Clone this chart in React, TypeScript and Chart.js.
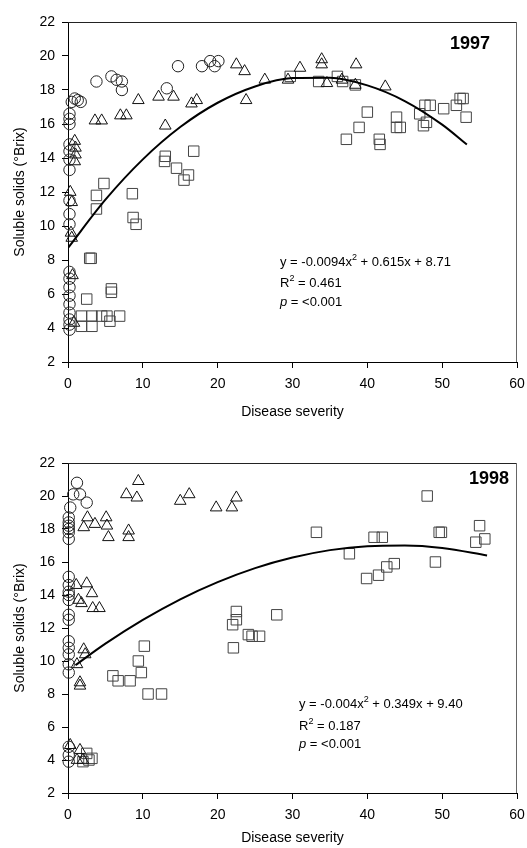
import React, { useEffect, useRef } from "react";
import { Chart, registerables } from "chart.js";

Chart.register(...registerables);

const FONT = '"Liberation Sans", Arial, Helvetica, sans-serif';

// ---------- axis ticks ----------
const xTickMin = 0;
const xTickMax = 60;
const xTickStep = 10;
const yTickMin = 2;
const yTickMax = 22;
const yTickStep = 2;

const xTitle = "Disease severity";
const yTitle = "Soluble solids (°Brix)";

// ---------- 1997 ----------
const year1997 = "1997";
const circles1997: [number, number][] = [
  [0.2, 16.6], [0.2, 16.3], [0.2, 16.0], [0.2, 14.8], [0.2, 14.4], [0.2, 13.9], [0.2, 13.3],
  [0.2, 11.5], [0.2, 10.7], [0.2, 10.1], [0.2, 7.3], [0.2, 6.9], [0.2, 6.4], [0.2, 5.9],
  [0.2, 5.4], [0.2, 4.9], [0.2, 4.5], [0.2, 4.2], [0.2, 3.9],
  [0.5, 17.3], [0.9, 17.5], [1.3, 17.4], [1.7, 17.3],
  [3.8, 18.5], [5.8, 18.8], [6.5, 18.6], [7.2, 18.5], [7.2, 18.0], [13.2, 18.1],
  [14.7, 19.4], [17.9, 19.4], [19.0, 19.7], [19.6, 19.4], [20.1, 19.7],
];
const triangles1997: [number, number][] = [
  [0.9, 15.0], [1.0, 14.6], [1.0, 14.2], [0.9, 13.8], [0.3, 12.0], [0.5, 11.4], [0.4, 9.6],
  [0.5, 9.3], [0.6, 7.1], [0.8, 4.3],
  [3.6, 16.2], [4.5, 16.2], [7.0, 16.5], [7.8, 16.5], [9.4, 17.4], [12.1, 17.6], [14.1, 17.6],
  [16.5, 17.2], [17.2, 17.4], [13.0, 15.9], [22.5, 19.5], [23.6, 19.1], [23.8, 17.4],
  [26.3, 18.6], [29.4, 18.6], [31.0, 19.3], [33.9, 19.8], [33.9, 19.5], [34.6, 18.4],
  [36.6, 18.6], [38.5, 19.5], [38.4, 18.3], [42.4, 18.2],
];
const squares1997: [number, number][] = [
  [3.8, 11.8], [4.8, 12.5], [3.8, 11.0], [8.6, 11.9], [8.7, 10.5], [9.1, 10.1], [2.9, 8.1],
  [3.1, 8.1], [5.8, 6.3], [5.8, 6.1], [2.5, 5.7], [1.8, 4.7], [3.2, 4.7], [4.5, 4.7],
  [5.2, 4.7], [6.9, 4.7], [1.8, 4.1], [3.2, 4.1], [5.6, 4.4],
  [13.0, 14.1], [12.9, 13.8], [14.5, 13.4], [16.1, 13.0], [15.5, 12.7], [16.8, 14.4],
  [29.7, 18.8], [33.5, 18.5], [36.0, 18.8], [36.7, 18.5], [38.4, 18.3], [40.0, 16.7],
  [38.9, 15.8], [37.2, 15.1], [41.6, 15.1], [41.7, 14.8], [43.9, 16.4], [43.9, 15.8],
  [44.4, 15.8], [47.0, 16.6], [47.7, 17.1], [48.4, 17.1], [47.5, 15.9], [47.9, 16.1],
  [50.2, 16.9], [51.9, 17.1], [52.4, 17.5], [52.8, 17.5], [53.2, 16.4],
];
const fitX1997 = [0, 5, 10, 15, 20, 25, 30, 35, 40, 45, 50, 53.3];
const fitY1997 = [8.71, 11.55, 13.92, 15.82, 17.25, 18.21, 18.7, 18.72, 18.27, 17.35, 15.96, 14.79];
const eq1997 = { lead: "y = -0.0094x", tail: " + 0.615x + 8.71", r2: " = 0.461", p: " = <0.001" };

// ---------- 1998 ----------
const year1998 = "1998";
const circles1998: [number, number][] = [
  [1.2, 20.8], [0.7, 20.1], [1.6, 20.1], [2.5, 19.6], [0.3, 19.3], [0.1, 18.7], [0.1, 18.4],
  [0.1, 18.2], [0.1, 18.0], [0.1, 17.8], [0.1, 17.4],
  [0.1, 15.1], [0.1, 14.6], [0.1, 14.2], [0.1, 14.0], [0.1, 13.7], [0.1, 12.8], [0.1, 12.5],
  [0.1, 11.2], [0.1, 10.8], [0.1, 10.4], [0.1, 9.8], [0.1, 9.3], [0.1, 4.8], [0.1, 4.3], [0.1, 3.9],
];
const triangles1998: [number, number][] = [
  [9.4, 20.9], [7.8, 20.1], [9.2, 19.9], [15.0, 19.7], [16.2, 20.1], [19.8, 19.3], [21.9, 19.3],
  [22.5, 19.9],
  [2.6, 18.7], [2.1, 18.1], [3.6, 18.3], [5.1, 18.7], [5.2, 18.2], [5.4, 17.5], [8.1, 17.9], [8.1, 17.5],
  [1.1, 14.6], [2.5, 14.7], [3.2, 14.1], [1.4, 13.7], [1.8, 13.5], [3.3, 13.2], [4.2, 13.2],
  [2.1, 10.7], [2.3, 10.4], [1.2, 9.8], [1.6, 8.7], [1.6, 8.5], [0.3, 4.9], [1.6, 4.6],
  [1.2, 4.0], [2.0, 4.0],
];
const squares1998: [number, number][] = [
  [6.0, 9.1], [6.7, 8.8], [8.3, 8.8], [9.8, 9.3], [9.4, 10.0], [10.2, 10.9], [10.7, 8.0], [12.5, 8.0],
  [22.1, 10.8], [22.0, 12.2], [22.5, 12.5], [22.5, 13.0], [24.1, 11.6], [24.6, 11.5], [25.6, 11.5],
  [27.9, 12.8],
  [33.2, 17.8], [37.6, 16.5], [40.9, 17.5], [42.0, 17.5], [39.9, 15.0], [41.5, 15.2], [42.6, 15.7],
  [43.6, 15.9], [48.0, 20.0], [49.6, 17.8], [49.9, 17.8], [49.1, 16.0], [55.0, 18.2], [54.5, 17.2],
  [55.7, 17.4],
  [2.5, 4.4], [2.8, 4.0], [3.2, 4.1], [2.0, 3.9],
];
const fitX1998 = [1, 5, 10, 15, 20, 25, 30, 35, 40, 45, 50, 56];
const fitY1998 = [9.75, 11.05, 12.49, 13.74, 14.78, 15.63, 16.27, 16.72, 16.96, 17.0, 16.85, 16.4];
const eq1998 = { lead: "y = -0.004x", tail: " + 0.349x + 9.40", r2: " = 0.187", p: " = <0.001" };

const toPts = (arr: [number, number][]) => arr.map(([x, y]) => ({ x, y }));

const annotate = {
  id: "annotate",
  afterDraw(chart: any, _args: any, o: any) {
    const { ctx, chartArea: a } = chart;
    ctx.save();
    // frame: top and right
    ctx.lineWidth = 1;
    ctx.strokeStyle = "#222";
    ctx.beginPath();
    ctx.moveTo(a.left, Math.round(a.top) + 0.5);
    ctx.lineTo(a.right, Math.round(a.top) + 0.5);
    ctx.stroke();
    ctx.strokeStyle = "#666";
    ctx.beginPath();
    ctx.moveTo(Math.round(a.right) - 0.5, a.top);
    ctx.lineTo(Math.round(a.right) - 0.5, a.bottom);
    ctx.stroke();

    ctx.fillStyle = "#000";
    // year
    ctx.font = `bold 18px ${FONT}`;
    ctx.textAlign = "right";
    ctx.textBaseline = "alphabetic";
    ctx.fillText(o.year, o.yearX, o.yearY);

    // equation block
    const eq = o.eq;
    ctx.textAlign = "left";
    ctx.font = `13px ${FONT}`;
    let x = o.eqX;
    ctx.fillText(eq.lead, x, o.eqY[0]);
    x += ctx.measureText(eq.lead).width;
    ctx.font = `9px ${FONT}`;
    ctx.fillText("2", x, o.eqY[0] - 6);
    x += ctx.measureText("2").width;
    ctx.font = `13px ${FONT}`;
    ctx.fillText(eq.tail, x, o.eqY[0]);

    x = o.eqX;
    ctx.fillText("R", x, o.eqY[1]);
    x += ctx.measureText("R").width;
    ctx.font = `9px ${FONT}`;
    ctx.fillText("2", x, o.eqY[1] - 6);
    x += ctx.measureText("2").width;
    ctx.font = `13px ${FONT}`;
    ctx.fillText(eq.r2, x, o.eqY[1]);

    x = o.eqX;
    ctx.font = `italic 13px ${FONT}`;
    ctx.fillText("p", x, o.eqY[2]);
    x += ctx.measureText("p").width;
    ctx.font = `13px ${FONT}`;
    ctx.fillText(eq.p, x, o.eqY[2]);

    // axis titles
    ctx.font = `14px ${FONT}`;
    ctx.textAlign = "center";
    ctx.textBaseline = "middle";
    ctx.fillText(xTitle, (a.left + a.right) / 2, o.xTitleY);
    ctx.translate(o.yTitleX, (a.top + a.bottom) / 2);
    ctx.rotate(-Math.PI / 2);
    ctx.fillText(yTitle, 0, 0);
    ctx.restore();
  },
};

type PanelProps = {
  height: number;
  padTop: number;
  xAxisHeight: number;
  circles: [number, number][];
  triangles: [number, number][];
  squares: [number, number][];
  fitX: number[];
  fitY: number[];
  annot: any;
};

function Panel(p: PanelProps) {
  const ref = useRef<HTMLCanvasElement>(null);
  useEffect(() => {
    const chart = new Chart(ref.current as HTMLCanvasElement, {
      type: "scatter",
      data: {
        datasets: [
          {
            type: "line",
            data: p.fitX.map((x, i) => ({ x, y: p.fitY[i] })),
            borderColor: "#000",
            borderWidth: 2,
            pointRadius: 0,
            fill: false,
            cubicInterpolationMode: "monotone",
          } as any,
          {
            data: toPts(p.circles),
            pointStyle: "circle",
            pointRadius: 5.7,
            borderColor: "#222",
            borderWidth: 1,
            backgroundColor: "rgba(0,0,0,0)",
            clip: false,
          } as any,
          {
            data: toPts(p.triangles),
            pointStyle: "triangle",
            pointRadius: 6.7,
            borderColor: "#111",
            borderWidth: 1,
            backgroundColor: "rgba(0,0,0,0)",
            clip: false,
          } as any,
          {
            data: toPts(p.squares),
            pointStyle: "rect",
            pointRadius: 7.4,
            borderColor: "#444",
            borderWidth: 1,
            backgroundColor: "rgba(0,0,0,0)",
            clip: false,
          } as any,
        ],
      },
      options: {
        animation: false,
        responsive: false,
        devicePixelRatio: 1,
        layout: { padding: { top: p.padTop, right: 10, left: 0, bottom: 0 } },
        plugins: {
          legend: { display: false },
          tooltip: { enabled: false },
          annotate: p.annot,
        } as any,
        scales: {
          x: {
            type: "linear",
            min: xTickMin,
            max: xTickMax,
            ticks: {
              stepSize: xTickStep,
              color: "#000",
              font: { family: FONT, size: 14 },
              padding: 8,
              maxRotation: 0,
            },
            grid: { drawOnChartArea: false, drawTicks: true, tickLength: 6, color: "#000" },
            border: { display: true, color: "#000", width: 1 },
            afterFit: (s: any) => {
              s.height = p.xAxisHeight;
              s.paddingLeft = 0;
              s.paddingRight = 0;
            },
          },
          y: {
            type: "linear",
            min: yTickMin,
            max: yTickMax,
            ticks: {
              stepSize: yTickStep,
              color: "#000",
              font: { family: FONT, size: 14 },
              padding: 7,
            },
            grid: { drawOnChartArea: false, drawTicks: true, tickLength: 6, color: "#000" },
            border: { display: true, color: "#000", width: 1 },
            afterFit: (s: any) => {
              s.width = 68;
              s.paddingTop = 0;
              s.paddingBottom = 0;
            },
          },
        },
      },
      plugins: [annotate as any],
    });
    return () => chart.destroy();
  }, []);
  return (
    <canvas
      ref={ref}
      width={527}
      height={p.height}
      style={{ display: "block", width: 527, height: p.height }}
    />
  );
}

export default function App() {
  return (
    <div style={{ position: "absolute", left: 0, top: 0, width: 527, height: 848, background: "#fff" }}>
      <Panel
        height={424}
        padTop={22}
        xAxisHeight={62}
        circles={circles1997}
        triangles={triangles1997}
        squares={squares1997}
        fitX={fitX1997}
        fitY={fitY1997}
        annot={{
          year: year1997,
          yearX: 490,
          yearY: 49,
          eq: eq1997,
          eqX: 280,
          eqY: [266, 287, 306],
          xTitleY: 412,
          yTitleX: 20,
        }}
      />
      <Panel
        height={424}
        padTop={39}
        xAxisHeight={55}
        circles={circles1998}
        triangles={triangles1998}
        squares={squares1998}
        fitX={fitX1998}
        fitY={fitY1998}
        annot={{
          year: year1998,
          yearX: 509,
          yearY: 60,
          eq: eq1998,
          eqX: 299,
          eqY: [284, 306, 324],
          xTitleY: 414,
          yTitleX: 20,
        }}
      />
    </div>
  );
}
